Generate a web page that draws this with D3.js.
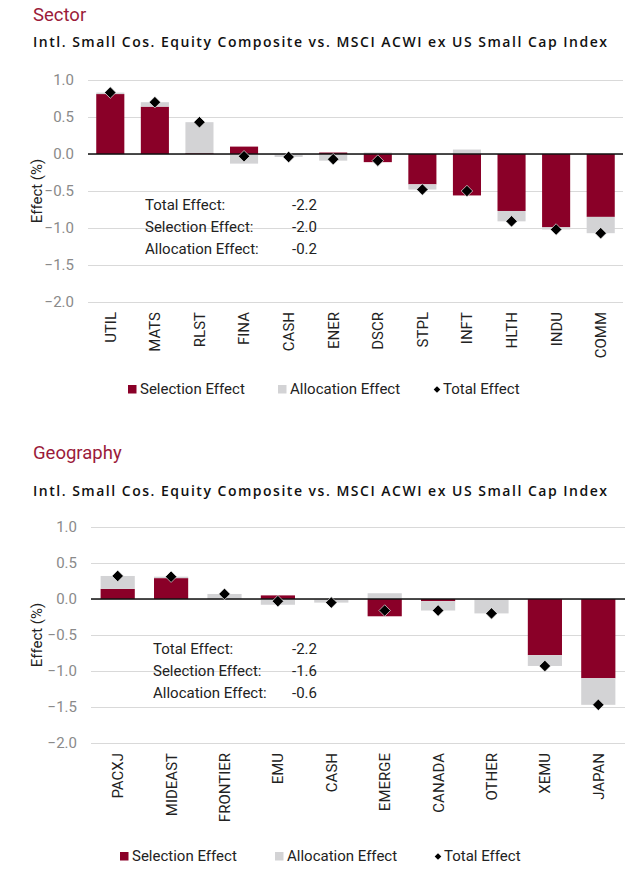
<!DOCTYPE html>
<html>
<head>
<meta charset="utf-8">
<script src="https://cdn.jsdelivr.net/npm/d3@7"></script>
<style>
  html, body { margin: 0; padding: 0; background: #fff; }
  svg { display: block; font-family: Roboto, "DejaVu Sans", sans-serif; }
</style>
</head>
<body>
<svg id="chart" width="640" height="872"></svg>
<script>
// ---------- DATA ----------
const subtitle = "Intl. Small Cos. Equity Composite vs. MSCI ACWI ex US Small Cap Index";
const yTicks = [1.0, 0.5, 0.0, -0.5, -1.0, -1.5, -2.0];
const seriesNames = ["Selection Effect", "Allocation Effect", "Total Effect"];
const summaryLabels = ["Total Effect:", "Selection Effect:", "Allocation Effect:"];

const sectorCategories = ["UTIL", "MATS", "RLST", "FINA", "CASH", "ENER", "DSCR", "STPL", "INFT", "HLTH", "INDU", "COMM"];
const sectorSelection  = [0.81, 0.64, 0.01, 0.10, 0.00, 0.02, -0.11, -0.41, -0.56, -0.77, -0.99, -0.85];
const sectorAllocation = [0.02, 0.06, 0.42, -0.13, -0.04, -0.09, 0.02, -0.07, 0.06, -0.14, -0.03, -0.22];
const sectorTotal      = [0.83, 0.70, 0.43, -0.03, -0.04, -0.07, -0.09, -0.48, -0.50, -0.91, -1.02, -1.07];
const sectorSummary    = ["-2.2", "-2.0", "-0.2"];

const geoCategories  = ["PACXJ", "MIDEAST", "FRONTIER", "EMU", "CASH", "EMERGE", "CANADA", "OTHER", "XEMU", "JAPAN"];
const geoSelection   = [0.14, 0.29, 0.00, 0.05, 0.00, -0.24, -0.03, 0.00, -0.78, -1.10];
const geoAllocation  = [0.18, 0.02, 0.07, -0.08, -0.05, 0.08, -0.13, -0.20, -0.15, -0.37];
const geoTotal       = [0.32, 0.31, 0.07, -0.03, -0.05, -0.16, -0.16, -0.20, -0.93, -1.47];
const geoSummary     = ["-2.2", "-1.6", "-0.6"];

// ---------- STYLE ----------
const RED = "#8a0028";
const GRAY = "#d3d3d5";
const GRID = "#d9d9d9";
const TITLE_RED = "#9b1b3a";
const FS = 15;

const svg = d3.select("#chart");

function drawPanel(opt) {
  const g = svg.append("g");
  const { categories, selection, allocation, total, summary } = opt;

  g.append("text").attr("x", 33).attr("y", opt.titleY)
    .attr("fill", TITLE_RED).attr("font-size", 18.5).text(opt.title);
  g.append("text").attr("x", 33).attr("y", opt.subY)
    .attr("fill", "#111").attr("font-size", 14).attr("font-weight", 600)
    .attr("font-family", "'Open Sans', Roboto, sans-serif")
    .attr("textLength", 574).attr("lengthAdjust", "spacing").text(subtitle);

  const x = d3.scaleBand().domain(categories).range([opt.x0, opt.x1])
    .paddingInner(opt.pad).paddingOuter(opt.pad / 2);
  const y = d3.scaleLinear().domain([-2, 1]).range([opt.yBottom, opt.yTop]);

  // grid + y axis
  const yAxis = d3.axisLeft(y).tickValues(yTicks).tickFormat(d3.format(".1f"))
    .tickSize(-(opt.x1 - opt.x0)).tickPadding(14);
  const ya = g.append("g").attr("transform", `translate(${opt.x0},0)`).call(yAxis);
  ya.select(".domain").remove();
  ya.selectAll(".tick line").attr("stroke", GRID).attr("stroke-width", 1.2);
  ya.selectAll(".tick text").attr("fill", "#8a8a8a").attr("font-size", FS)
    .attr("font-family", "Roboto, sans-serif")
    .text(d => d3.format(".1f")(d));

  g.append("text")
    .attr("transform", `translate(${opt.labelX},${(y(1) + y(-2)) / 2}) rotate(-90)`)
    .attr("text-anchor", "middle").attr("font-size", FS).attr("fill", "#222")
    .text("Effect (%)");

  // stacked bars
  const rows = categories.map((c, i) => ({ cat: c, sel: selection[i], alloc: allocation[i] }));
  const stack = d3.stack().keys(["sel", "alloc"]).offset(d3.stackOffsetDiverging)(rows);
  const colors = { sel: RED, alloc: GRAY };
  stack.forEach(layer => {
    g.append("g").selectAll("rect").data(layer).join("rect")
      .attr("x", d => x(d.data.cat))
      .attr("width", x.bandwidth())
      .attr("y", d => y(Math.max(d[0], d[1])))
      .attr("height", d => Math.abs(y(d[0]) - y(d[1])))
      .attr("fill", colors[layer.key]);
  });

  // zero line
  g.append("line").attr("x1", opt.x0).attr("x2", opt.x1)
    .attr("y1", y(0)).attr("y2", y(0)).attr("stroke", "#111").attr("stroke-width", 1.6);

  // total diamonds
  const diamond = d3.symbol().type(d3.symbolSquare).size(66);
  g.append("g").selectAll("path").data(categories).join("path")
    .attr("d", diamond)
    .attr("transform", (c, i) => `translate(${x(c) + x.bandwidth() / 2},${y(total[i])}) rotate(45)`)
    .attr("fill", "#000").attr("stroke", "#fff").attr("stroke-width", 0.6);

  // x labels
  g.append("g").selectAll("text").data(categories).join("text")
    .attr("transform", c => `translate(${x(c) + x.bandwidth() / 2},${opt.xLabelY}) rotate(-90)`)
    .attr("text-anchor", "end").attr("dy", "0.36em")
    .attr("font-size", FS).attr("fill", "#222").text(c => c);

  // summary
  summaryLabels.forEach((lab, i) => {
    g.append("text").attr("x", opt.sumX).attr("y", opt.sumY + i * 22)
      .attr("font-size", FS).attr("fill", "#222").text(lab);
    g.append("text").attr("x", 292).attr("y", opt.sumY + i * 22)
      .attr("font-size", FS).attr("fill", "#222").text(summary[i]);
  });

  // legend
  const lg = g.append("g");
  const ly = opt.legendY;
  lg.append("rect").attr("x", opt.leg[0]).attr("y", ly - 4).attr("width", 8.5).attr("height", 8.5).attr("fill", RED);
  lg.append("text").attr("x", opt.leg[0] + 12).attr("y", ly + 5).attr("font-size", FS).attr("fill", "#222").text(seriesNames[0]);
  lg.append("rect").attr("x", opt.leg[1]).attr("y", ly - 4).attr("width", 8.5).attr("height", 8.5).attr("fill", GRAY);
  lg.append("text").attr("x", opt.leg[1] + 12).attr("y", ly + 5).attr("font-size", FS).attr("fill", "#222").text(seriesNames[1]);
  lg.append("path").attr("d", d3.symbol().type(d3.symbolSquare).size(22))
    .attr("transform", `translate(${opt.leg[2] + 3},${ly + 0.5}) rotate(45)`).attr("fill", "#000");
  lg.append("text").attr("x", opt.leg[2] + 9).attr("y", ly + 5).attr("font-size", FS).attr("fill", "#222").text(seriesNames[2]);
}

drawPanel({
  title: "Sector", titleY: 21, subY: 47,
  categories: sectorCategories, selection: sectorSelection, allocation: sectorAllocation,
  total: sectorTotal, summary: sectorSummary,
  x0: 88, x1: 623, pad: 0.37, yTop: 80, yBottom: 302, labelX: 42,
  xLabelY: 312, sumX: 145, sumY: 210, legendY: 389, leg: [128, 278, 434]
});

drawPanel({
  title: "Geography", titleY: 459, subY: 496,
  categories: geoCategories, selection: geoSelection, allocation: geoAllocation,
  total: geoTotal, summary: geoSummary,
  x0: 91, x1: 625, pad: 0.36, yTop: 527, yBottom: 743, labelX: 42,
  xLabelY: 753, sumX: 153, sumY: 654, legendY: 856, leg: [120, 275, 435]
});
</script>
</body>
</html>
